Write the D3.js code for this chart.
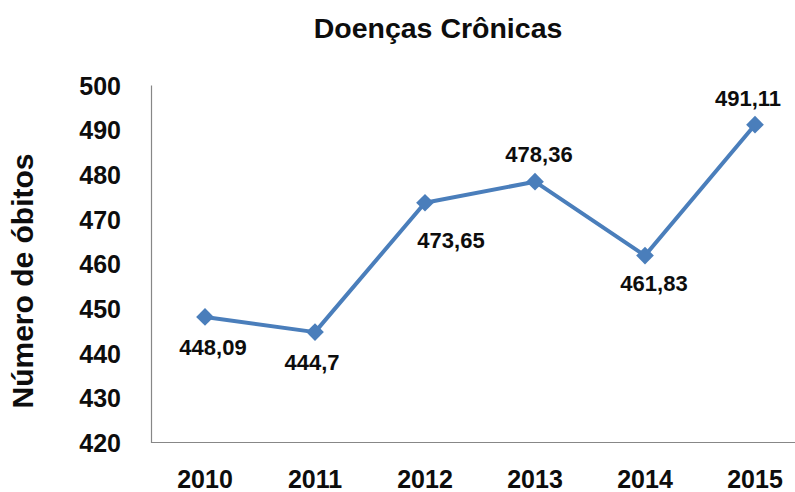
<!DOCTYPE html>
<html><head><meta charset="utf-8">
<script src="https://cdn.jsdelivr.net/npm/d3@7"></script>
<style>html,body{margin:0;padding:0;background:#fff;}svg{display:block;}</style>
</head><body>
<svg id="chart" width="795" height="492"></svg>
<script>
const title = "Doenças Crônicas";
const yAxisTitle = "Número de óbitos";
const years = ["2010", "2011", "2012", "2013", "2014", "2015"];
const values = [448.09, 444.7, 473.65, 478.36, 461.83, 491.11];
const valueLabels = ["448,09", "444,7", "473,65", "478,36", "461,83", "491,11"];
const yTicks = [420, 430, 440, 450, 460, 470, 480, 490, 500];

// layout (not data): label offsets from each point
const labelOffsets = [[8, 38], [-3, 38], [26, 45], [4, -20], [9, 35], [-7, -18.5]];

const W = 795, H = 492;
const mLeft = 151, mTop = 85, mBottom = 442.5;
const font = "'Liberation Sans', Arial, sans-serif";
const blue = "#4A7EBB", axisCol = "#878787", txt = "#0d0d0d";

const svg = d3.select("#chart");
const x = d3.scaleBand().domain(years).range([150, 810]).padding(0);
const cx = d => x(d) + x.bandwidth() / 2;
const y = d3.scaleLinear().domain([420, 500]).range([mBottom, mTop]);

// title
svg.append("text").attr("x", 438).attr("y", 38).attr("text-anchor", "middle")
  .attr("font-family", font).attr("font-weight", "bold").attr("font-size", 28.5)
  .attr("fill", txt).text(title);

// y axis title
svg.append("text").attr("transform", "translate(33,281) rotate(-90)")
  .attr("text-anchor", "middle").attr("font-family", font).attr("font-weight", "bold")
  .attr("font-size", 30).attr("fill", txt).text(yAxisTitle);

// y axis
const yAxis = d3.axisLeft(y).tickValues(yTicks).tickSize(0).tickPadding(30).tickFormat(d3.format("d"));
const gy = svg.append("g").attr("transform", `translate(${mLeft},0)`).call(yAxis);
gy.select(".domain").attr("stroke", axisCol).attr("stroke-width", 1.2);
gy.selectAll("text").attr("font-family", font).attr("font-weight", "bold")
  .attr("font-size", 25).attr("fill", txt).attr("dy", "0.36em");

// x axis
const xAxis = d3.axisBottom(x).tickSize(0).tickPadding(28);
const gx = svg.append("g").attr("transform", `translate(0,${mBottom})`).call(xAxis);
gx.select(".domain").attr("d", `M${mLeft},0H${W}`).attr("stroke", axisCol).attr("stroke-width", 1.2);
gx.selectAll("text").attr("font-family", font).attr("font-weight", "bold")
  .attr("font-size", 25).attr("fill", txt).attr("dy", "0.71em");

// line
const data = years.map((yr, i) => ({ yr, v: values[i], lab: valueLabels[i], off: labelOffsets[i] }));
svg.append("path").datum(data)
  .attr("d", d3.line().x(d => cx(d.yr)).y(d => y(d.v)))
  .attr("fill", "none").attr("stroke", blue).attr("stroke-width", 4).attr("stroke-linejoin", "round");

// markers
svg.selectAll(".mk").data(data).enter().append("path").attr("class", "mk")
  .attr("transform", d => `translate(${cx(d.yr)},${y(d.v)})`)
  .attr("d", d3.symbol().type(d3.symbolDiamond2).size(200))
  .attr("fill", blue);

// data labels
svg.selectAll(".lbl").data(data).enter().append("text").attr("class", "lbl")
  .attr("x", d => cx(d.yr) + d.off[0]).attr("y", d => y(d.v) + d.off[1])
  .attr("text-anchor", "middle").attr("font-family", font).attr("font-weight", "bold")
  .attr("font-size", 22).attr("fill", txt).text(d => d.lab);
</script>
</body></html>
